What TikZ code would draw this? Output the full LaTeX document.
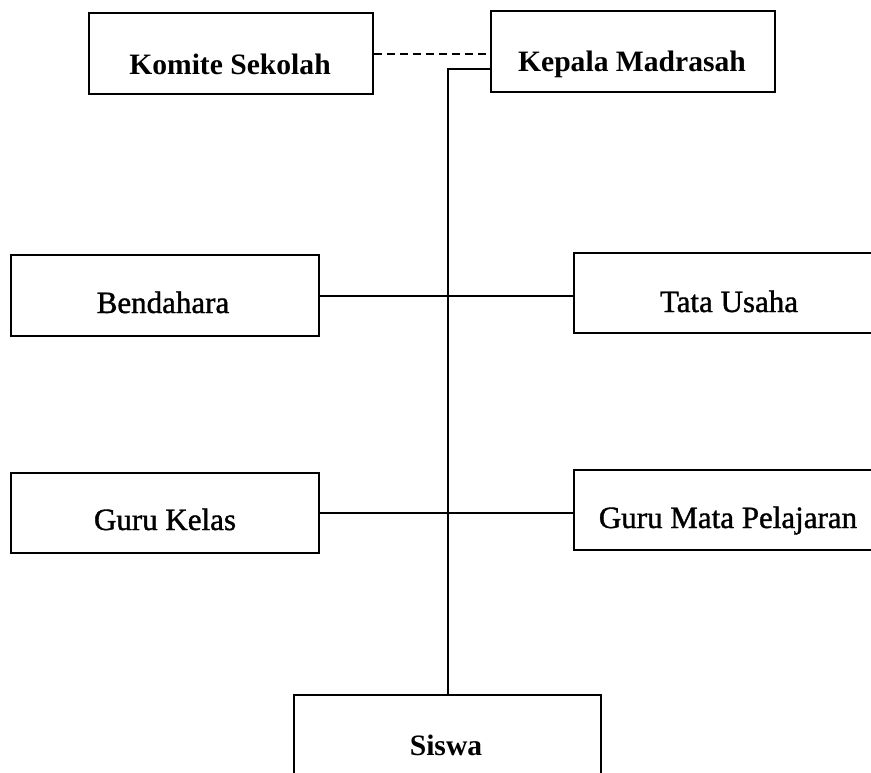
\documentclass[tikz,border=0pt]{standalone}
\usepackage{fontspec}
\setmainfont{Liberation Serif}
\newfontfamily\heavyserif[FakeBold=1.2]{Liberation Serif}
\begin{document}
\begin{tikzpicture}[x=1pt,y=-1pt,
  box/.style={draw, line width=2.3pt, inner sep=0pt, anchor=north west},
  lbl/.style={anchor=base, inner sep=0pt, font=\fontsize{29.6}{32}\selectfont\bfseries},
  lblr/.style={anchor=base, inner sep=0pt, font=\fontsize{31}{34}\selectfont\heavyserif},
  conn/.style={line width=1.8pt},
  dconn/.style={line width=1.8pt, dash pattern=on 8pt off 5pt}]
\useasboundingbox (0,0) rectangle (871,772);
% boxes
\node[box, minimum width=284pt, minimum height=81pt] (kom) at (88,12) {};
\node[box, minimum width=284pt, minimum height=81pt] (kep) at (490,10) {};
\node[box, minimum width=308pt, minimum height=81pt] (ben) at (10,254) {};
\node[box, minimum width=312pt, minimum height=80pt] (tu) at (573,252) {};
\node[box, minimum width=308pt, minimum height=80pt] (gk) at (10,472) {};
\node[box, minimum width=312pt, minimum height=80pt] (gm) at (573,469) {};
\node[box, minimum width=307pt, minimum height=95pt] (sis) at (293,694) {};
% labels
\node[lbl] (tkom) at (230,74) {Komite Sekolah};
\node[lbl] (tkep) at (632,71) {Kepala Madrasah};
\node[lblr] (tben) at (163,313) {Bendahara};
\node[lblr] (ttu) at (729,312) {Tata Usaha};
\node[lblr] (tgk) at (165,530) {Guru Kelas};
\node[lblr] (tgm) at (728,528) {Guru Mata Pelajaran};
\node[lbl] (tsis) at (446,755) {Siswa};
% connectors
\draw[dconn] (kom.east) -- (kom.east -| kep.west);
\draw[conn] ([yshift=-17pt]kep.west) -| (sis.north);
\draw[conn] (ben.east) -- (ben.east -| tu.west);
\draw[conn] (gk.east) -- (gk.east -| gm.west);
\end{tikzpicture}
\end{document}
